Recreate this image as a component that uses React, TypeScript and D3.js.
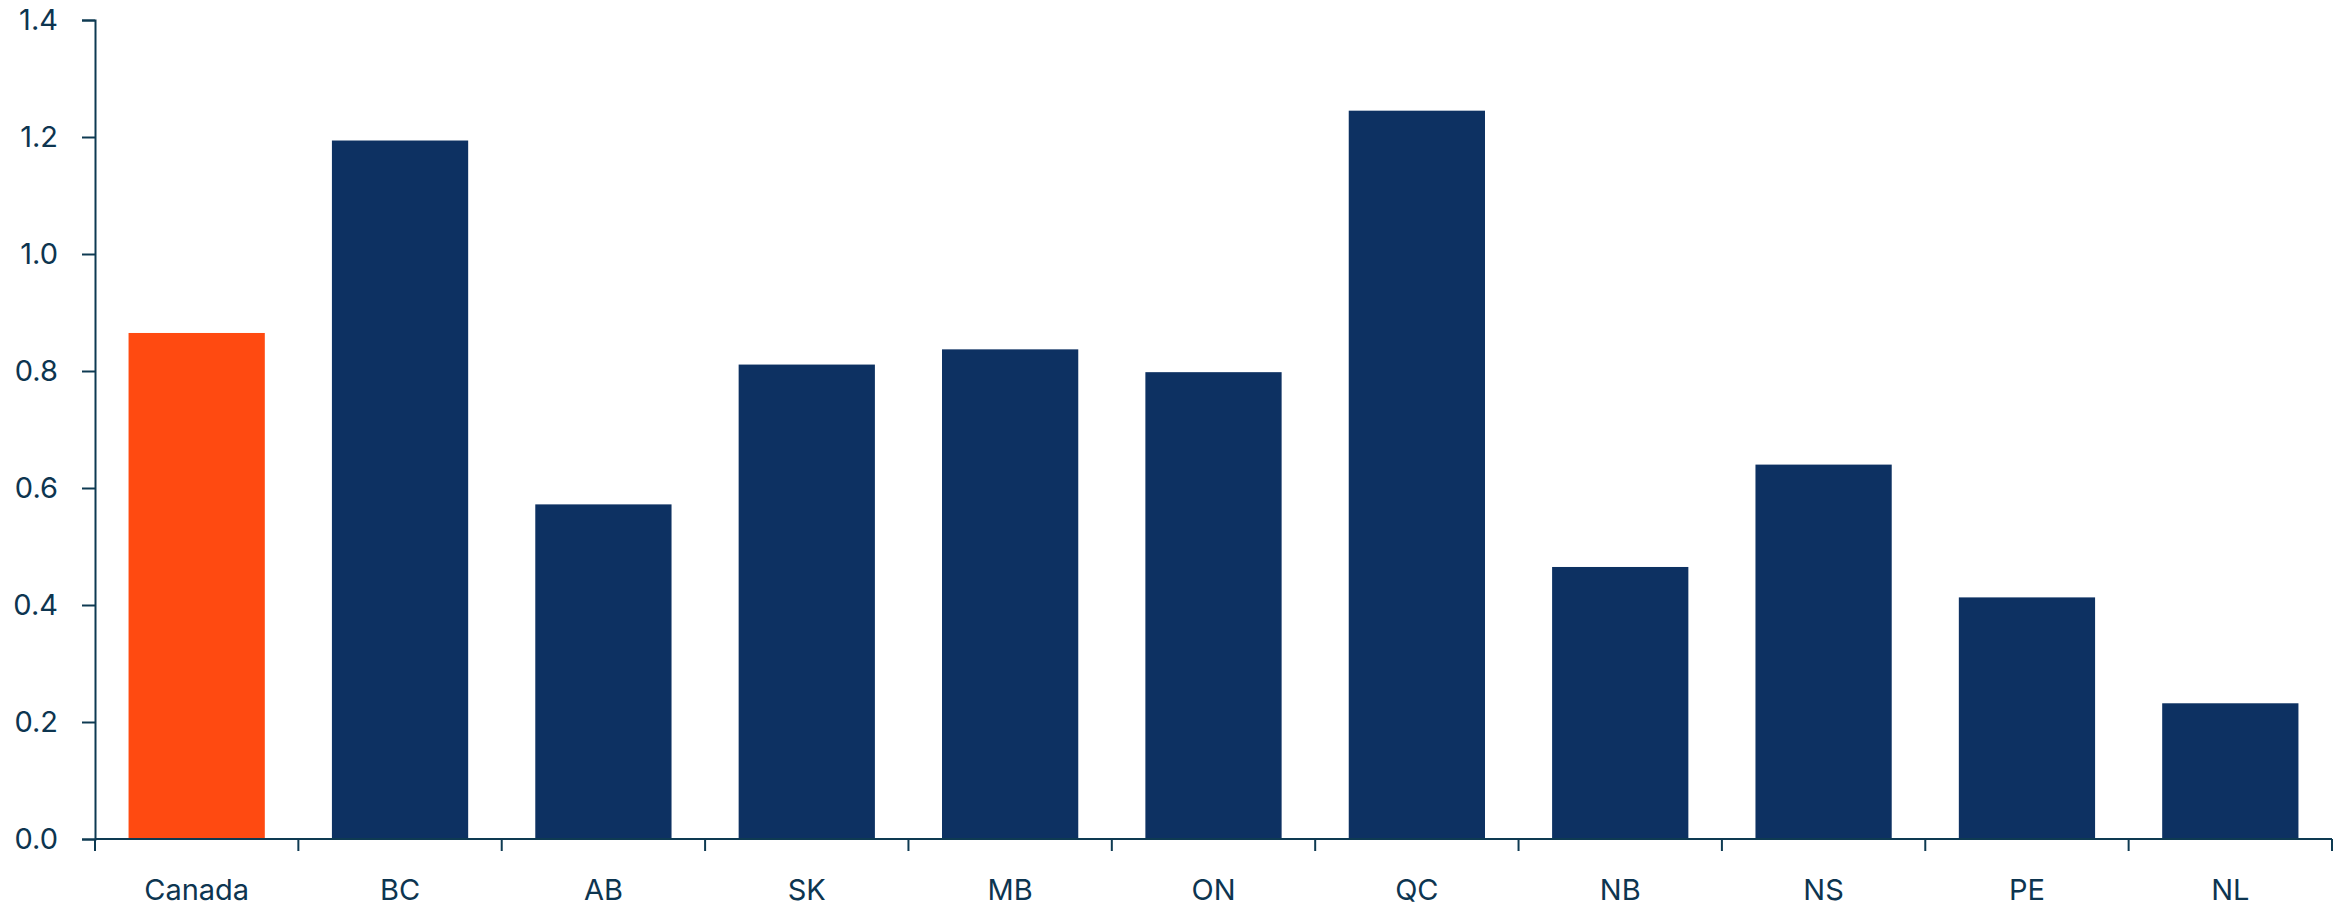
import React, { useEffect, useRef } from "react";
import * as d3 from "d3";

const categories = ["Canada", "BC", "AB", "SK", "MB", "ON", "QC", "NB", "NS", "PE", "NL"];
const values = [0.865, 1.194, 0.572, 0.811, 0.837, 0.798, 1.245, 0.465, 0.640, 0.413, 0.232];
const yTicks = [0, 0.2, 0.4, 0.6, 0.8, 1.0, 1.2, 1.4];

const W = 2341;
const H = 904;
const margin = { left: 95, right: 9, top: 20, bottom: 65 };
const textColor = "#0d3550";
const axisColor = "#0e3a52";

export default function App() {
  const ref = useRef<SVGSVGElement | null>(null);

  useEffect(() => {
    const svg = d3.select(ref.current);
    svg.selectAll("*").remove();
    const x = d3
      .scaleBand<string>()
      .domain(categories)
      .range([margin.left, W - margin.right])
      .paddingInner(0.33)
      .paddingOuter(0.165);
    const y = d3.scaleLinear().domain([0, 1.4]).range([H - margin.bottom, margin.top]);

    // bars
    svg
      .append("g")
      .selectAll("rect")
      .data(values)
      .join("rect")
      .attr("x", (_, i) => x(categories[i])!)
      .attr("width", x.bandwidth())
      .attr("y", (d) => y(d))
      .attr("height", (d) => y(0) - y(d))
      .attr("fill", (_, i) => (i === 0 ? "#ff4a11" : "#0d3162"));

    // y axis
    const yAxis = svg
      .append("g")
      .attr("transform", `translate(${margin.left},0)`)
      .call(
        d3
          .axisLeft(y)
          .tickValues(yTicks)
          .tickFormat(d3.format(".1f"))
          .tickSize(13)
          .tickSizeOuter(13)
          .tickPadding(24)
      );
    yAxis.selectAll("path,line").attr("stroke", axisColor).attr("stroke-width", 2);
    yAxis
      .selectAll("text")
      .attr("fill", textColor)
      .attr("font-family", "Inter, 'Noto Sans', sans-serif")
      .attr("font-size", 29);

    // x axis
    const step = x.step();
    const boundaries = d3.range(categories.length + 1).map((i) => margin.left + i * step);
    const xg = svg.append("g");
    xg.append("line")
      .attr("x1", margin.left)
      .attr("x2", W - margin.right)
      .attr("y1", y(0))
      .attr("y2", y(0))
      .attr("stroke", axisColor)
      .attr("stroke-width", 2);
    xg.selectAll("line.tick")
      .data(boundaries)
      .join("line")
      .attr("class", "tick")
      .attr("x1", (d) => d)
      .attr("x2", (d) => d)
      .attr("y1", y(0))
      .attr("y2", y(0) + 12)
      .attr("stroke", axisColor)
      .attr("stroke-width", 2);
    xg.selectAll("text")
      .data(categories)
      .join("text")
      .attr("x", (d) => x(d)! + x.bandwidth() / 2)
      .attr("y", H - 4)
      .attr("text-anchor", "middle")
      .attr("fill", textColor)
      .attr("font-family", "Inter, 'Noto Sans', sans-serif")
      .attr("font-size", 29)
      .text((d) => d);
  }, []);

  return (
    <div style={{ position: "absolute", left: 0, top: 0 }}>
      <svg ref={ref} width={W} height={H} style={{ display: "block" }} />
    </div>
  );
}
